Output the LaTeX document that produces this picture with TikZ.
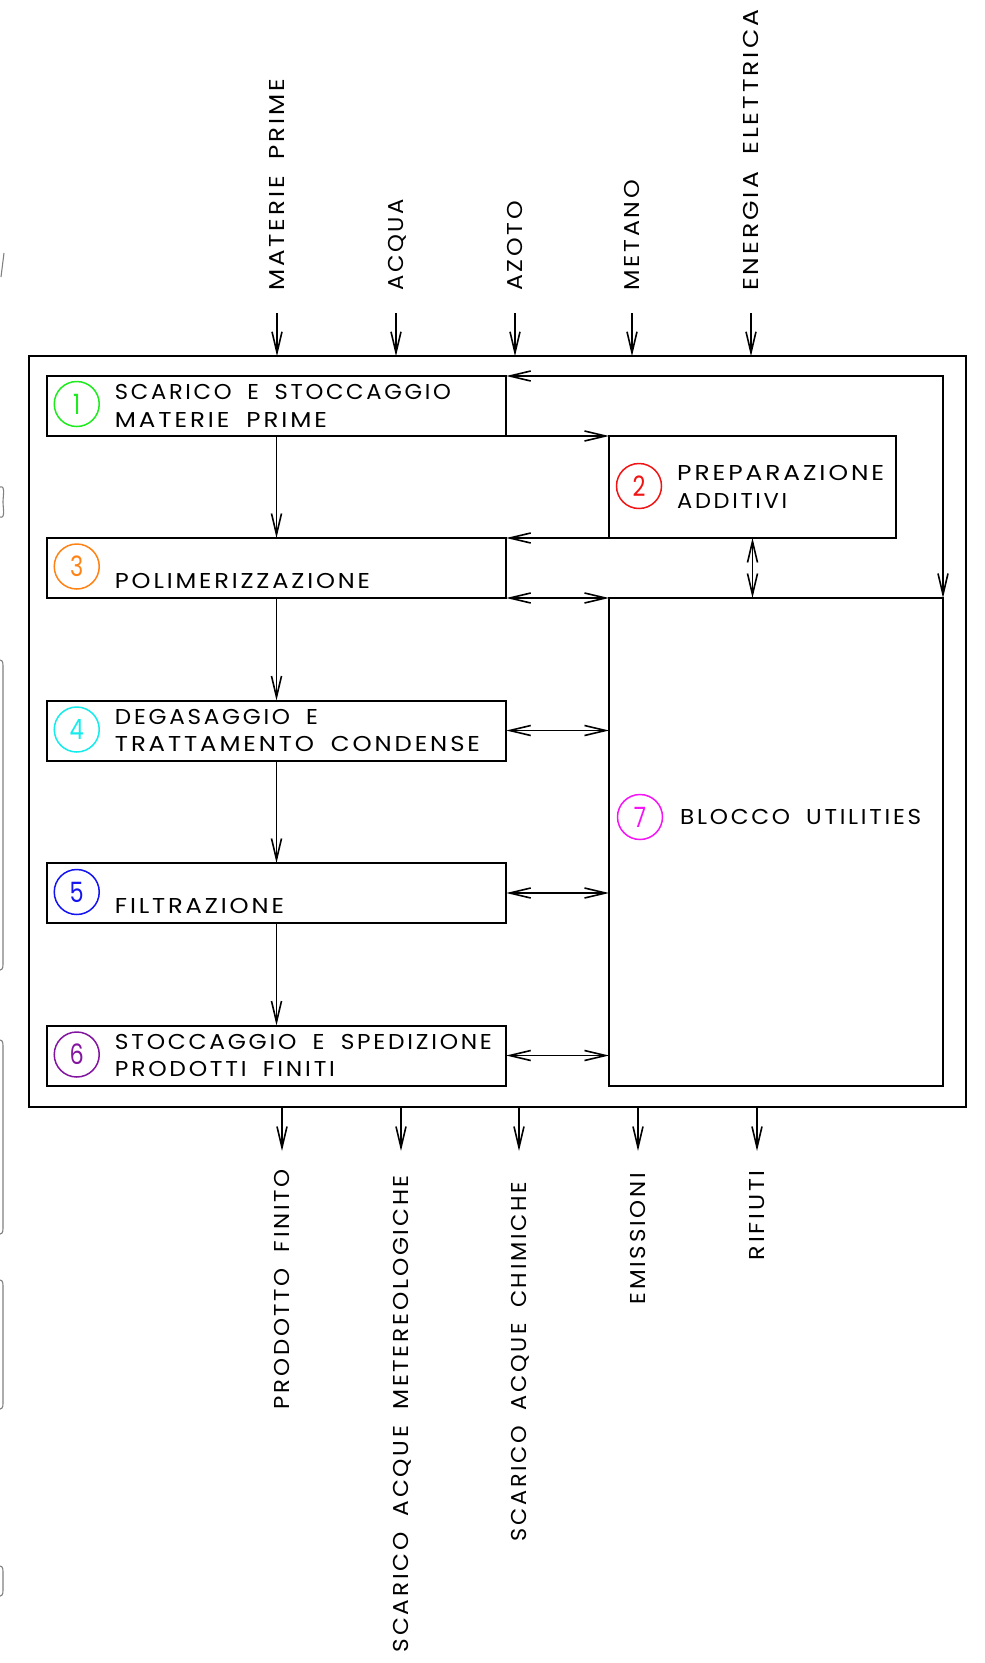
\documentclass[tikz,border=0pt]{standalone}
\usepackage{fontspec}
\usepackage{graphicx}
\setmainfont{Poppins}[FakeStretch=1.1, LetterSpace=13, WordSpace=1.8]
\newfontfamily\numfont{Poppins}[FakeStretch=0.8]
\usetikzlibrary{arrows.meta, positioning, calc}

\definecolor{cgreen}{RGB}{30,235,30}
\definecolor{cred}{RGB}{240,20,20}
\definecolor{corange}{RGB}{255,130,20}
\definecolor{ccyan}{RGB}{20,235,235}
\definecolor{cblue}{RGB}{20,20,240}
\definecolor{cpurple}{RGB}{130,20,160}
\definecolor{cmagenta}{RGB}{245,20,245}

% text set to the width it has on the drawing
\newcommand{\fw}[2]{\resizebox{#1pt}{\height}{#2}}

\tikzset{
  blk/.style={draw, line width=2pt, inner sep=0pt, outer sep=0pt},
  num/.style={draw, circle, line width=1.5pt, minimum size=45pt, inner sep=0pt,
    font=\numfont\fontsize{28}{28}\selectfont},
  txt/.style={align=left, inner sep=0pt, font=\fontsize{21.5}{27.7}\selectfont},
  inlbl/.style={rotate=90, anchor=west, inner sep=0pt, text height=15pt, text depth=0pt,
    font=\fontsize{21.5}{26}\selectfont},
  outlbl/.style={inlbl, anchor=east},
  flow/.style={line width=1.6pt, -{Straight Barb[length=21pt, width=10pt]}},
  both/.style={line width=1.6pt, {Straight Barb[length=21pt, width=10pt]}-{Straight Barb[length=21pt, width=10pt]}},
  scan/.style={draw=black!50, line width=1.1pt},
}

\begin{document}
\begin{tikzpicture}[x=1pt, y=-1pt]
\useasboundingbox (0,0) rectangle (985,1663);

% frame and blocks
\node[blk, minimum width=937pt, minimum height=751pt] (fr) at (497,731.7) {};
\node[blk, minimum width=459.5pt, minimum height=60pt] (ss) at (276.5,406) {};
\node[blk, minimum width=287pt, minimum height=102pt] (pa) at (752.5,487) {};
\node[blk, minimum width=459.5pt, minimum height=60pt] (po) at (276.5,568) {};
\node[blk, minimum width=459.5pt, minimum height=60pt] (dg) at (276.5,730.5) {};
\node[blk, minimum width=459.5pt, minimum height=60pt] (fi) at (276.5,893) {};
\node[blk, minimum width=459.5pt, minimum height=60pt] (sp) at (276.5,1055.5) {};
\node[blk, minimum width=334pt, minimum height=488pt] (ut) at (776,842) {};

% numbers
\node[num, cgreen] (c1) at ($(ss.west)+(30,-2)$) {1};
\node[num, cred] (c2) at ($(pa.west)+(30,-1)$) {2};
\node[num, corange] (c3) at ($(po.west)+(30,-1.5)$) {3};
\node[num, ccyan] (c4) at ($(dg.west)+(30,-1)$) {4};
\node[num, cblue] (c5) at ($(fi.west)+(30,-1)$) {5};
\node[num, cpurple] (c6) at ($(sp.west)+(30,-1)$) {6};
\node[num, cmagenta] (c7) at (640,817) {7};

% block texts
\node[txt, anchor=west] (t1) at ($(ss.west)+(68,0)$) {\fw{336}{SCARICO E STOCCAGGIO}\\\fw{212}{MATERIE PRIME}};
\node[txt, anchor=west] (t2) at ($(pa.west)+(68,0)$) {\fw{207}{PREPARAZIONE}\\\fw{110}{ADDITIVI}};
\node[txt, anchor=base west] (t3) at ($(po.south west)+(68,-9.5)$) {\fw{255}{POLIMERIZZAZIONE}};
\node[txt, anchor=west] (t4) at ($(dg.west)+(68,0)$) {\fw{203}{DEGASAGGIO E}\\\fw{365}{TRATTAMENTO CONDENSE}};
\node[txt, anchor=base west] (t5) at ($(fi.south west)+(68,-9.5)$) {\fw{169}{FILTRAZIONE}};
\node[txt, anchor=west] (t6) at ($(sp.west)+(68,0)$) {\fw{377}{STOCCAGGIO E SPEDIZIONE}\\\fw{220}{PRODOTTI FINITI}};
\node[txt, anchor=base west] (t7) at (680,824.5) {\fw{241}{BLOCCO UTILITIES}};

% inputs
\node[inlbl] (mp) at (277,291) {\fw{212}{MATERIE PRIME}};
\node[inlbl] (aq) at (396,291) {\fw{92}{ACQUA}};
\node[inlbl] (az) at (515,291) {\fw{90}{AZOTO}};
\node[inlbl] (me) at (632,291) {\fw{111}{METANO}};
\node[inlbl] (ee) at (751,291) {\fw{281}{ENERGIA ELETTRICA}};
\draw[flow] ([yshift=-22pt]mp.west) -- (mp.west |- fr.north);
\draw[flow] ([yshift=-22pt]aq.west) -- (aq.west |- fr.north);
\draw[flow] ([yshift=-22pt]az.west) -- (az.west |- fr.north);
\draw[flow] ([yshift=-22pt]me.west) -- (me.west |- fr.north);
\draw[flow] ([yshift=-22pt]ee.west) -- (ee.west |- fr.north);

% outputs
\coordinate (o1) at (282,1151);
\coordinate (o2) at (401,1151);
\coordinate (o3) at (519,1151);
\coordinate (o4) at (638,1151);
\coordinate (o5) at (757,1151);
\draw[flow] (o1 |- fr.south) -- (o1);
\draw[flow] (o2 |- fr.south) -- (o2);
\draw[flow] (o3 |- fr.south) -- (o3);
\draw[flow] (o4 |- fr.south) -- (o4);
\draw[flow] (o5 |- fr.south) -- (o5);
\node[outlbl] (pf) at ($(o1)+(0,18)$) {\fw{240}{PRODOTTO FINITO}};
\node[outlbl] (sm) at ($(o2)+(0,24)$) {\fw{477}{SCARICO ACQUE METEREOLOGICHE}};
\node[outlbl] (sc) at ($(o3)+(0,31)$) {\fw{359}{SCARICO ACQUE CHIMICHE}};
\node[outlbl] (em) at ($(o4)+(0,22)$) {\fw{131}{EMISSIONI}};
\node[outlbl] (ri) at ($(o5)+(0,19)$) {\fw{90}{RIFIUTI}};

% process flow
\draw[flow] (ss) -- (po);
\draw[flow] (po) -- (dg);
\draw[flow] (dg) -- (fi);
\draw[flow] (fi) -- (sp);
\draw[flow] (ss.south east) -- (pa.north west);
\draw[flow] (pa.south west) -- (po.north east);
\draw[both] (po.south east) -- (ut.north west);
\draw[both] (pa.south) -- (pa.south |- ut.north);
\draw[both] (ut.north east) -- (ut.north east |- ss.north) -- (ss.north east);
\draw[both] (dg.east) -- (dg.east -| ut.west);
\draw[both] (fi.east) -- (fi.east -| ut.west);
\draw[both] (sp.east) -- (sp.east -| ut.west);

% scan marks on the left edge
\draw[scan] (4,253) -- (1,277);
\draw[scan] (0,487) to[out=20,in=90] (3,502) to[out=-90,in=-20] (0,517);
\draw[scan] (0,660) to[out=0,in=90] (3,668) -- (3,962) to[out=-90,in=0] (0,970);
\draw[scan] (0,1040) to[out=0,in=90] (3,1048) -- (3,1226) to[out=-90,in=0] (0,1234);
\draw[scan] (0,1280) to[out=0,in=90] (3,1288) -- (3,1401) to[out=-90,in=0] (0,1409);
\draw[scan] (0,1566) to[out=0,in=90] (3,1574) -- (3,1588) to[out=-90,in=0] (0,1596);
\end{tikzpicture}
\end{document}
